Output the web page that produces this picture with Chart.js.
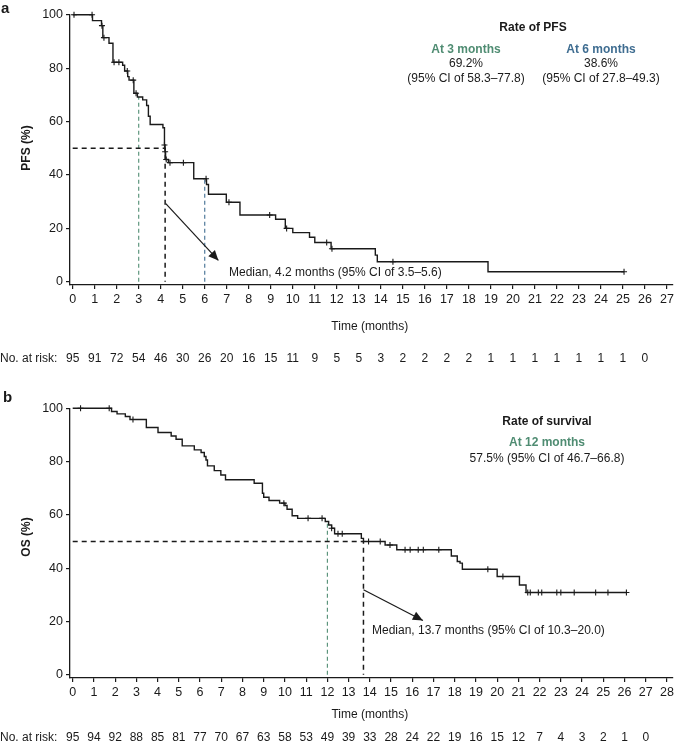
<!DOCTYPE html>
<html>
<head>
<meta charset="utf-8">
<script src="https://cdn.jsdelivr.net/npm/chart.js@4.4.1/dist/chart.umd.min.js"></script>
<style>
    body { margin: 0; background: #fff; }
    canvas { position: absolute; left: 0; }
</style>
</head>
<body>
<canvas id="pfsChart" width="678" height="375" style="top:0"></canvas>
<canvas id="osChart" width="678" height="371" style="top:375px"></canvas>
<script>
// PFS (panel a) - step points (time, value after the drop)
const pfsTimes = [0, 0.9, 1.31, 1.37, 1.65, 1.83, 2.27, 2.36, 2.5, 2.56, 2.78, 2.94, 3.18, 3.36, 3.44, 3.52, 4.1, 4.17, 4.2, 4.22,
    4.35, 5.5, 6.08, 6.17, 6.98, 7.6, 9.22, 9.66, 10.0, 10.76, 11.0, 11.74, 13.75, 13.84, 18.87, 25.05];
const pfsValues = [100, 97.8, 95.9, 91.4, 89.3, 82.2, 81.1, 78.9, 76.8, 75.5, 70.6, 69.2, 68.1, 66.0, 62.0, 58.9, 57.7, 51.2, 48.7, 45.8,
    44.6, 38.6, 36.4, 32.8, 29.8, 25.0, 23.4, 20.0, 18.4, 16.7, 14.7, 12.4, 10.0, 7.5, 3.75, 3.75];
const pfsCensorTimes = [0.06, 0.88, 1.33, 1.42, 1.88, 2.1, 2.48, 2.75, 2.88, 4.17, 4.2, 4.25, 4.42, 5.03, 6.06, 7.1, 8.95, 9.72, 11.54, 11.78, 14.55, 25.05];
const pfsCensorValues = [100, 100, 95.9, 91.4, 82.2, 82.2, 78.9, 75.5, 70.6, 51.2, 48.7, 45.8, 44.6, 44.6, 38.6, 29.8, 25.0, 20.0, 14.7, 12.4, 7.5, 3.75];
const pfsRisk = [95, 91, 72, 54, 46, 30, 26, 20, 16, 15, 11, 9, 5, 5, 3, 2, 2, 2, 2, 1, 1, 1, 1, 1, 1, 1, 0];
const pfsMedian = 4.2;
const pfsRateTimes = [3, 6];
const pfsRateValues = [69.2, 38.6];
const pfsArrow = [[4.23, 29.3], [6.62, 8.0]];

// OS (panel b)
const osTimes = [0, 1.83, 2.09, 2.48, 2.7, 3.47, 4.02, 4.64, 4.87, 5.16, 5.73, 6.05, 6.2, 6.28, 6.35, 6.67, 6.98, 7.2, 8.55, 8.94,
    9.0, 9.25, 9.75, 10.0, 10.1, 10.34, 10.6, 11.9, 12.06, 12.2, 12.34, 13.6, 13.7, 14.72, 15.27, 17.84, 18.12, 18.25, 18.36, 20.0,
    21.05, 21.36, 26.09];
const osValues = [100, 98.8, 97.9, 96.9, 95.8, 92.8, 90.9, 89.6, 88.4, 85.9, 84.4, 83.4, 81.9, 80.6, 78.4, 76.6, 75.0, 73.2, 71.9, 68.1,
    66.6, 65.4, 64.4, 63.5, 62.1, 59.7, 58.7, 57.5, 56.2, 55.0, 52.9, 51.2, 50.0, 48.7, 46.9, 44.6, 42.5, 41.9, 39.6, 36.9,
    33.7, 30.9, 30.9];
const osCensorTimes = [0.37, 1.72, 2.84, 9.95, 11.09, 11.75, 12.2, 12.5, 12.7, 13.94, 14.49, 14.95, 15.66, 15.9, 16.28, 16.52, 17.25,
    19.56, 20.27, 21.44, 21.56, 21.94, 22.1, 22.81, 23.0, 23.63, 24.64, 25.22, 26.09];
const osCensorValues = [100, 100, 95.8, 64.4, 58.7, 58.7, 55.0, 52.9, 52.9, 50.0, 50.0, 48.7, 46.9, 46.9, 46.9, 46.9, 46.9,
    39.6, 36.9, 30.9, 30.9, 30.9, 30.9, 30.9, 30.9, 30.9, 30.9, 30.9, 30.9];
const osRisk = [95, 94, 92, 88, 85, 81, 77, 70, 67, 63, 58, 53, 49, 39, 33, 28, 24, 22, 19, 16, 15, 12, 7, 4, 3, 2, 1, 0];
const osMedian = 13.7;
const osRateTimes = [12];
const osRateValues = [57.5];
const osArrow = [[13.7, 31.9], [16.5, 20.4]];

const yTicks = [0, 20, 40, 60, 80, 100];
const FONT = '"Liberation Sans", Arial, Helvetica, sans-serif';
const INK = '#1a1a1a';
const GREEN = '#4f8c72';
const BLUE = '#3f6d91';

Chart.defaults.font.family = FONT;
Chart.defaults.color = INK;

function toPoints(xs, ys) {
    return xs.map((x, i) => ({ x: x, y: ys[i] }));
}

const extras = {
    id: 'extras',
    afterDatasetsDraw(chart, args, opts) {
        const ctx = chart.ctx;
        const xs = chart.scales.x;
        ctx.save();

        // arrow head
        const meta = chart.getDatasetMeta(opts.arrowIndex);
        const p0 = meta.data[0], p1 = meta.data[1];
        const ang = Math.atan2(p1.y - p0.y, p1.x - p0.x);
        ctx.fillStyle = INK;
        ctx.beginPath();
        ctx.moveTo(p1.x, p1.y);
        ctx.lineTo(p1.x - 10 * Math.cos(ang) + 4.5 * Math.sin(ang), p1.y - 10 * Math.sin(ang) - 4.5 * Math.cos(ang));
        ctx.lineTo(p1.x - 10 * Math.cos(ang) - 4.5 * Math.sin(ang), p1.y - 10 * Math.sin(ang) + 4.5 * Math.cos(ang));
        ctx.closePath();
        ctx.fill();

        ctx.textBaseline = 'middle';
        opts.texts.forEach(t => {
            ctx.font = (t.bold ? 'bold ' : '') + (t.size || 12) + 'px ' + FONT;
            ctx.fillStyle = t.color || INK;
            ctx.textAlign = t.align || 'center';
            ctx.fillText(t.text, t.x, t.y);
        });

        // y title
        ctx.save();
        ctx.translate(opts.yTitleX, opts.yTitleY);
        ctx.rotate(-Math.PI / 2);
        ctx.font = 'bold 12px ' + FONT;
        ctx.fillStyle = INK;
        ctx.textAlign = 'center';
        ctx.fillText(opts.yTitle, 0, 0);
        ctx.restore();

        // x title
        ctx.font = '12px ' + FONT;
        ctx.textAlign = 'center';
        ctx.fillText('Time (months)', xs.getPixelForValue(opts.risk.length > 27 ? 14 : 13.5), opts.xTitleY);

        // number at risk
        ctx.textAlign = 'left';
        ctx.fillText('No. at risk:', 0, opts.riskY);
        ctx.textAlign = 'center';
        opts.risk.forEach((n, i) => {
            ctx.fillText(String(n), xs.getPixelForValue(i), opts.riskY);
        });
        ctx.restore();
    }
};

function kmChart(id, p) {
    const xTicks = [];
    for (let i = 0; i <= p.lastTick; i++) xTicks.push(i);

    const datasets = [
        {
            data: toPoints(p.times, p.values),
            stepped: true,
            borderColor: INK,
            borderWidth: 1.4,
            pointRadius: 0,
            clip: false
        },
        {
            data: toPoints(p.censorTimes, p.censorValues),
            showLine: false,
            pointStyle: 'cross',
            pointRadius: 3,
            borderColor: INK,
            borderWidth: 1.1,
            clip: false
        },
        {
            data: [{ x: 0, y: 50 }, { x: p.median, y: 50 }, { x: p.median, y: 0 }],
            borderColor: INK,
            borderWidth: 1.5,
            borderDash: [5, 4],
            pointRadius: 0
        },
        {
            data: p.arrow.map(a => ({ x: a[0], y: a[1] })),
            borderColor: INK,
            borderWidth: 1.2,
            pointRadius: 0
        }
    ];
    p.rateTimes.forEach((t, i) => {
        datasets.push({
            data: [{ x: t, y: 0 }, { x: t, y: p.rateValues[i] }],
            borderColor: p.rateColors[i],
            borderWidth: 1.1,
            borderDash: [4, 3],
            pointRadius: 0
        });
    });

    return new Chart(document.getElementById(id), {
        type: 'line',
        data: { datasets: datasets },
        options: {
            responsive: false,
            animation: false,
            devicePixelRatio: 1,
            layout: { padding: { top: p.top, right: 2, left: 0, bottom: 0 } },
            plugins: {
                legend: { display: false },
                tooltip: { enabled: false },
                extras: {
                    arrowIndex: 3,
                    texts: p.texts,
                    yTitle: p.yTitle,
                    yTitleX: 27,
                    yTitleY: p.yTitleY,
                    xTitleY: p.xTitleY,
                    risk: p.risk,
                    riskY: p.riskY
                }
            },
            scales: {
                x: {
                    type: 'linear',
                    min: p.xMin,
                    max: p.xMax,
                    afterBuildTicks: s => { s.ticks = xTicks.map(v => ({ value: v })); },
                    afterFit: s => { s.height = p.xHeight; },
                    ticks: { autoSkip: false, maxRotation: 0, padding: 3, font: { size: 12.5 }, color: INK },
                    grid: { drawOnChartArea: false, drawTicks: true, tickLength: 4, color: INK, lineWidth: 1.2 },
                    border: { display: true, color: INK, width: 1.3 }
                },
                y: {
                    min: -1.2,
                    max: 100,
                    afterBuildTicks: s => { s.ticks = yTicks.map(v => ({ value: v })); },
                    afterFit: s => { s.width = 70; },
                    ticks: { padding: 3, font: { size: 12.5 }, color: INK },
                    grid: { drawOnChartArea: false, drawTicks: true, tickLength: 4, color: INK, lineWidth: 1.2 },
                    border: { display: true, color: INK, width: 1.3 }
                }
            }
        },
        plugins: [extras]
    });
}

kmChart('pfsChart', {
    times: pfsTimes, values: pfsValues,
    censorTimes: pfsCensorTimes, censorValues: pfsCensorValues,
    median: pfsMedian, arrow: pfsArrow,
    rateTimes: pfsRateTimes, rateValues: pfsRateValues, rateColors: [GREEN, BLUE],
    lastTick: 27, xMin: -0.122, xMax: 27.27,
    top: 14.7, xHeight: 90,
    yTitle: 'PFS (%)', yTitleY: 148, xTitleY: 327,
    risk: pfsRisk, riskY: 359,
    texts: [
        { text: 'a', x: 1, y: 9, bold: true, size: 15, align: 'left' },
        { text: 'Rate of PFS', x: 533, y: 28, bold: true },
        { text: 'At 3 months', x: 466, y: 50, bold: true, color: GREEN },
        { text: pfsRateValues[0] + '%', x: 466, y: 64 },
        { text: '(95% CI of 58.3–77.8)', x: 466, y: 79 },
        { text: 'At 6 months', x: 601, y: 50, bold: true, color: BLUE },
        { text: pfsRateValues[1] + '%', x: 601, y: 64 },
        { text: '(95% CI of 27.8–49.3)', x: 601, y: 79 },
        { text: 'Median, 4.2 months (95% CI of 3.5–5.6)', x: 229, y: 273, align: 'left' }
    ]
});

kmChart('osChart', {
    times: osTimes, values: osValues,
    censorTimes: osCensorTimes, censorValues: osCensorValues,
    median: osMedian, arrow: osArrow,
    rateTimes: osRateTimes, rateValues: osRateValues, rateColors: [GREEN],
    lastTick: 28, xMin: -0.127, xMax: 28.28,
    top: 33.3, xHeight: 68,
    yTitle: 'OS (%)', yTitleY: 162, xTitleY: 340,
    risk: osRisk, riskY: 363,
    texts: [
        { text: 'b', x: 3, y: 23, bold: true, size: 15, align: 'left' },
        { text: 'Rate of survival', x: 547, y: 47, bold: true },
        { text: 'At 12 months', x: 547, y: 68, bold: true, color: GREEN },
        { text: '57.5% (95% CI of 46.7–66.8)', x: 547, y: 84 },
        { text: 'Median, 13.7 months (95% CI of 10.3–20.0)', x: 372, y: 256, align: 'left' }
    ]
});
</script>
</body>
</html>
